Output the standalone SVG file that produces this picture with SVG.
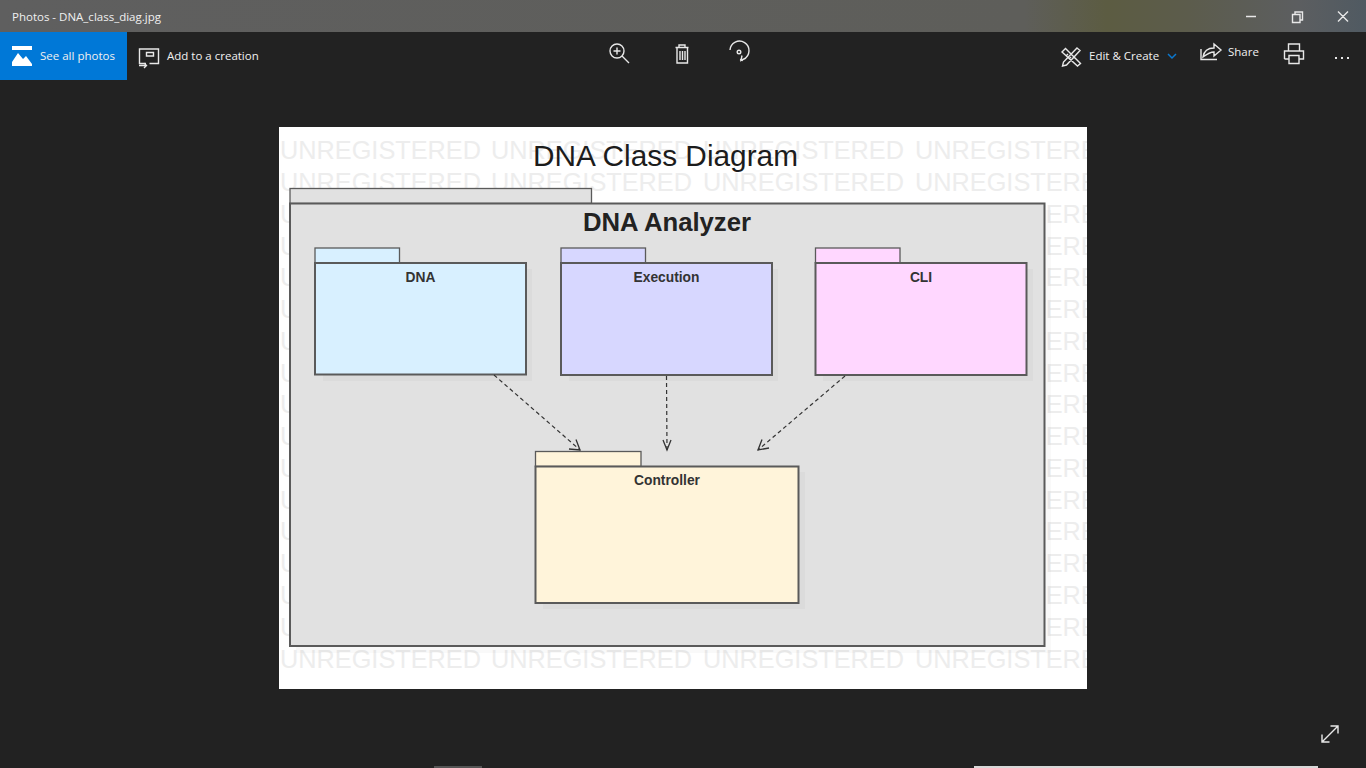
<svg xmlns="http://www.w3.org/2000/svg" width="1366" height="768" viewBox="0 0 1366 768">
<style>
.ui{font-family:"Open Sans","Noto Sans",sans-serif;font-size:11.5px;fill:#f0f0f0}
.ic{fill:none;stroke:#e8e8e8;stroke-width:1.4}
.wm{font-family:"Liberation Sans",Arial,sans-serif;font-size:25.3px;fill:#ededed}
.shadow{fill:#000;opacity:.025}
.pk{stroke:#5a5a5a;stroke-width:2}
.tab{stroke:#5a5a5a;stroke-width:1.3}
.lbl{font-family:"Liberation Sans",Arial,sans-serif;font-size:13.8px;font-weight:bold;fill:#333;text-anchor:middle;stroke:none}
.dep{fill:none;stroke:#333;stroke-width:1.2;stroke-dasharray:4 3}
.head{fill:none;stroke:#333;stroke-width:1.3}
</style>
<defs>
<linearGradient id="bar" x1="0" x2="1" y1="0" y2="0">
<stop offset="0" stop-color="#5f5f5f"/><stop offset=".75" stop-color="#5e5e5a"/><stop offset=".81" stop-color="#5c5c42"/><stop offset=".87" stop-color="#5c5c4c"/><stop offset=".95" stop-color="#5c5e60"/><stop offset="1" stop-color="#505a62"/>
</linearGradient>
<clipPath id="img"><rect x="279" y="127" width="808" height="562"/></clipPath>
<g id="wmrow">
<text class="wm" x="280" y="0">UNREGISTERED</text>
<text class="wm" x="491" y="0">UNREGISTERED</text>
<text class="wm" x="703" y="0">UNREGISTERED</text>
<text class="wm" x="915" y="0">UNREGISTERED</text>
</g>
</defs>
<rect width="1366" height="768" fill="#222"/>
<g id="titlebar">
<rect width="1366" height="32" fill="url(#bar)"/>
<text class="ui" x="12" y="21">Photos - DNA_class_diag.jpg</text>
<path class="ic" d="M1246 16.500h10M1292.500 14.500h7.500v8h-7.500zM1295 14.500v-2.500h7.500v8h-2.500M1338 11.500l10 10M1348 11.500l-10 10"/>
</g>
<g id="toolbar">
<rect x="0" y="32" width="127" height="48" fill="#0078d7"/>
<rect x="12" y="46" width="20" height="20" fill="#fff"/>
<path d="M12 62l6-9 5 6 3-3 6 8v-14h-20z" fill="#0078d7"/>
<text class="ui" x="40" y="60">See all photos</text>
<path class="ic" d="M146 63.500h-6.500v-14.500h19v14.500h-9M146.500 52.500h7v3.500h-7zM139 65.500h7M144 63l2.500 2.500-2.500 2.500"/>
<text class="ui" x="167" y="60">Add to a creation</text>
<circle class="ic" cx="617" cy="51" r="7"/>
<path class="ic" d="M622 56l7 7M613.500 51h7M617 47.500v7M675.500 47.500h13M679 47.500v-2.500h6v2.500M677 47.500v15.500h10.500v-15.500M680 51v9M682.500 51v9M685 51v9"/>
<path class="ic" d="M730 50a9.500 9.500 0 1 1 14 9M746 58l-5 2.500 1 -5M743 60.500l-3-1"/>
<circle class="ic" cx="739" cy="52" r="1.800"/>
<path class="ic" d="M1062 52l3.500-3.500 15 15-3 2.500zM1077 48l3 2.500-13.500 14.500-4 1 1-4zM1066 56l2-2M1069 59l2-2"/>
<text class="ui" x="1089" y="60">Edit &amp; Create</text>
<path d="M1168 54l4 4 4-4" fill="none" stroke="#0a78d0" stroke-width="1.500"/>
<path class="ic" d="M1201 49v10.500h16M1203 57c1-6 5-9 11-9v-4l7 6-7 6v-4c-4 0-7 2-11 5z"/>
<text class="ui" x="1228" y="56">Share</text>
<path class="ic" d="M1288.500 51v-7h11v7M1284.500 59v-8h19v8h-4M1288.500 59h-4M1289 55.500h10v8h-10z"/>
<path d="M1335 57h2v2h-2zM1341 57h2v2h-2zM1347 57h2v2h-2z" fill="#e8e8e8"/>
</g>
<g id="diagram-image">
<rect x="279" y="127" width="808" height="562" fill="#fff"/>
<g clip-path="url(#img)">
<use href="#wmrow" y="159"/>
<use href="#wmrow" y="191"/>
<use href="#wmrow" y="223"/>
<use href="#wmrow" y="255"/>
<use href="#wmrow" y="286"/>
<use href="#wmrow" y="318"/>
<use href="#wmrow" y="350"/>
<use href="#wmrow" y="382"/>
<use href="#wmrow" y="413"/>
<use href="#wmrow" y="445"/>
<use href="#wmrow" y="477"/>
<use href="#wmrow" y="509"/>
<use href="#wmrow" y="540"/>
<use href="#wmrow" y="572"/>
<use href="#wmrow" y="604"/>
<use href="#wmrow" y="636"/>
<use href="#wmrow" y="668"/>
</g>
<text x="665.500" y="166" text-anchor="middle" font-family="'Liberation Sans',Arial,sans-serif" font-size="29.800" fill="#1c1c1c">DNA Class Diagram</text>
</g>
<g id="pkg-analyzer">
<rect class="shadow" x="296" y="210" width="755" height="443"/>
<rect class="tab" x="290" y="188.500" width="301.500" height="15" fill="#e1e1e1"/>
<rect class="pk" x="290" y="203.500" width="754.500" height="442.500" fill="#e1e1e1" stroke-width="2.400"/>
<text x="667" y="231" text-anchor="middle" font-family="'Liberation Sans',Arial,sans-serif" font-size="25.700" font-weight="bold" fill="#222">DNA Analyzer</text>
</g>
<g id="pkg-dna">
<rect class="shadow" x="323" y="269" width="209" height="112"/>
<rect class="tab" x="315" y="248" width="84.500" height="15" fill="#d8f0ff"/>
<rect class="pk" x="315" y="263" width="211" height="111.500" fill="#d8f0ff"/>
<text class="lbl" x="420.500" y="282">DNA</text>
</g>
<g id="pkg-execution">
<rect class="shadow" x="569" y="269" width="209" height="112"/>
<rect class="tab" x="561" y="248" width="84.500" height="15" fill="#d7d7ff"/>
<rect class="pk" x="561" y="263" width="211" height="112" fill="#d7d7ff"/>
<text class="lbl" x="666.500" y="282">Execution</text>
</g>
<g id="pkg-cli">
<rect class="shadow" x="823" y="269" width="210" height="112"/>
<rect class="tab" x="815.500" y="248" width="84.500" height="15" fill="#ffd7ff"/>
<rect class="pk" x="815.500" y="263" width="211" height="112" fill="#ffd7ff"/>
<text class="lbl" x="921" y="282">CLI</text>
</g>
<g id="pkg-controller">
<rect class="shadow" x="543" y="472" width="262" height="137"/>
<rect class="tab" x="535.500" y="451.500" width="105.500" height="15" fill="#fff4da"/>
<rect class="pk" x="535.500" y="466.500" width="263" height="136.500" fill="#fff4da"/>
<text class="lbl" x="667" y="485">Controller</text>
</g>
<g id="connectors">
<path class="dep" d="M494 375L580 450"/>
<path class="head" d="M569 449L580 450L576 439.500"/>
<path class="dep" d="M666.500 376L667 450"/>
<path class="head" d="M663 440L667 450L671 440"/>
<path class="dep" d="M845 376L758 450"/>
<path class="head" d="M762 439.500L758 450L769 448"/>
</g>
<g id="window-extras">
<path class="ic" d="M1322 742L1338 726M1330.500 726h7.500v7.500M1322 734.500v7.500h7.500"/>
<rect x="974" y="766" width="344" height="2" fill="#d8d8d8"/>
<rect x="434" y="766" width="48" height="2" fill="#555"/>
</g>
</svg>
